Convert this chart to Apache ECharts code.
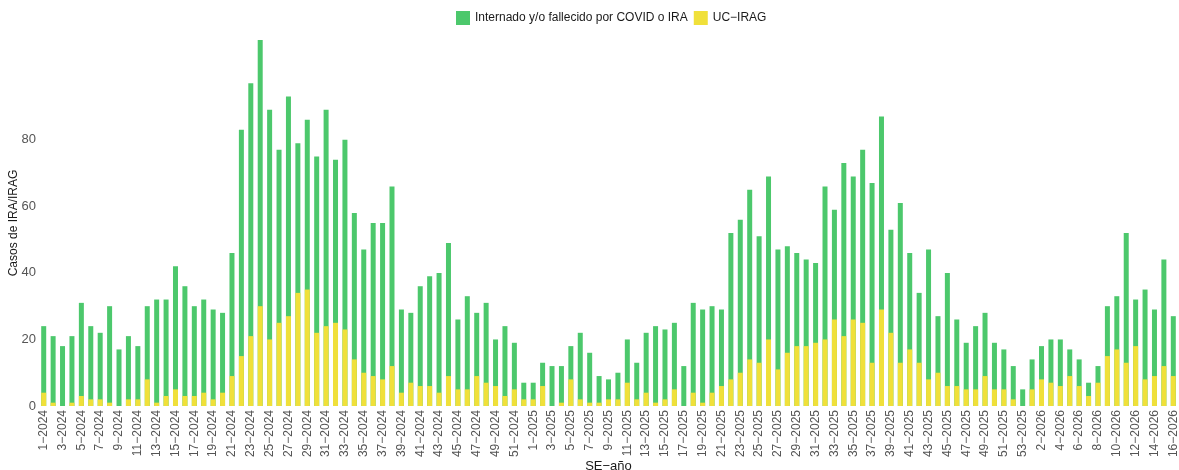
<!DOCTYPE html>
<html>
<head>
<meta charset="utf-8">
<script src="https://cdn.jsdelivr.net/npm/echarts@6/dist/echarts.min.js"></script>
<style>
  html, body { margin: 0; padding: 0; background: #fff; }
  #chart { width: 1179px; height: 470px; }
</style>
</head>
<body>
<div id="chart"></div>
<script>
// semanas epidemiologicas: 52 en 2024, 53 en 2025, 16 en 2026
const weeksPerYear = [[2024, 52], [2025, 53], [2026, 16]]
const categories = []
weeksPerYear.forEach(([year, n]) => {
  for (let w = 1; w <= n; w++) categories.push(w + '\u2212' + year)
})

// Internado y/o fallecido por COVID o IRA (total)
const internados = [
  24, 21, 18, 21, 31, 24, 22, 30, 17, 21, 18, 30, 32, 32, 42, 36, 30, 32, 29, 28,
  46, 83, 97, 110, 89, 77, 93, 79, 86, 75, 89, 74, 80, 58, 47, 55, 55, 66, 29, 28,
  36, 39, 40, 49, 26, 33, 28, 31, 20, 24, 19, 7,
  7, 13, 12, 12, 18, 22, 16, 9, 8, 10, 20, 13, 22, 24, 23, 25, 12, 31, 29, 30,
  29, 52, 56, 65, 51, 69, 47, 48, 46, 44, 43, 66, 59, 73, 69, 77, 67, 87, 53, 61,
  46, 34, 47, 27, 40, 26, 19, 24, 28, 19, 17, 12, 5,
  14, 18, 20, 20, 17, 14, 7, 12, 30, 33, 52, 32, 35, 29, 44, 27
]

// UC-IRAG
const ucIrag = [
  4, 1, 0, 1, 3, 2, 2, 1, 0, 2, 2, 8, 1, 3, 5, 3, 3, 4, 2, 4,
  9, 15, 21, 30, 20, 25, 27, 34, 35, 22, 24, 25, 23, 14, 10, 9, 8, 12, 4, 7,
  6, 6, 4, 9, 5, 5, 9, 7, 6, 3, 5, 2,
  2, 6, 0, 1, 8, 2, 1, 1, 2, 2, 7, 2, 4, 1, 2, 5, 0, 4, 1, 4,
  6, 8, 10, 14, 13, 20, 11, 16, 18, 18, 19, 20, 26, 21, 26, 25, 13, 29, 22, 13,
  17, 13, 8, 10, 6, 6, 5, 5, 9, 5, 5, 2, 0,
  5, 8, 7, 6, 9, 6, 3, 7, 15, 17, 13, 18, 8, 9, 12, 9
]

const yTicks = [0, 20, 40, 60, 80]

const chart = echarts.init(document.getElementById('chart'))
chart.setOption({
  animation: false,
  textStyle: { fontFamily: 'Liberation Sans, Arial, sans-serif' },
  legend: {
    top: 6,
    left: 451,
    itemWidth: 14,
    itemHeight: 14,
    itemGap: 6,
    icon: 'rect',
    textStyle: { fontSize: 12, color: '#1a1a1a' },
    data: ['Internado y/o fallecido por COVID o IRA', 'UC\u2212IRAG']
  },
  grid: { left: 39, right: 1, top: 40, bottom: 64, outerBoundsMode: 'none', containLabel: false },
  xAxis: {
    type: 'category',
    data: categories,
    name: 'SE\u2212a\u00f1o',
    nameLocation: 'middle',
    nameGap: 54,
    nameMoveOverlap: false,
    nameTextStyle: { fontSize: 13, color: '#1a1a1a' },
    axisLine: { show: false },
    axisTick: { show: false },
    axisLabel: { interval: 1, rotate: 90, fontSize: 12, color: '#555', margin: 4 }
  },
  yAxis: {
    type: 'value',
    min: 0,
    max: 110,
    interval: 20,
    name: 'Casos de IRA/IRAG',
    nameLocation: 'middle',
    nameGap: 19,
    nameMoveOverlap: false,
    nameTextStyle: { fontSize: 12, color: '#1a1a1a' },
    axisLine: { show: false },
    axisTick: { show: false },
    splitLine: { show: false },
    axisLabel: {
      fontSize: 13,
      color: '#555',
      margin: 3,
      formatter: v => (yTicks.includes(v) ? String(v) : '')
    }
  },
  series: [
    {
      name: 'Internado y/o fallecido por COVID o IRA',
      type: 'bar',
      data: internados,
      barWidth: 5,
      barGap: '-100%',
      itemStyle: { color: '#4cc86c' }
    },
    {
      name: 'UC\u2212IRAG',
      type: 'bar',
      data: ucIrag,
      barWidth: 5,
      barGap: '-100%',
      itemStyle: { color: '#f0e03a' }
    }
  ]
})
</script>
</body>
</html>
